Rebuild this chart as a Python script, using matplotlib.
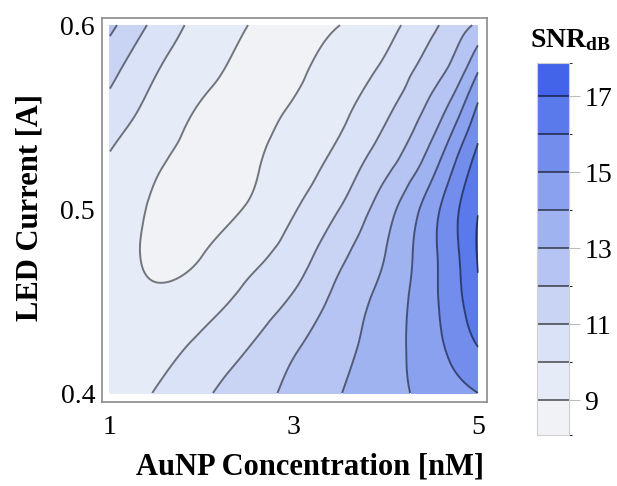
import numpy as np
import matplotlib
matplotlib.use("Agg")
import matplotlib.pyplot as plt
import matplotlib.tri as mtri
import matplotlib.colors as colors
import matplotlib.colorbar as mcolorbar

plt.rcParams['font.family'] = ['Liberation Serif', 'DejaVu Serif']
plt.rcParams['mathtext.fontset'] = 'custom'
plt.rcParams['mathtext.bf'] = 'Liberation Serif:bold'
plt.rcParams['mathtext.rm'] = 'Liberation Serif'

# Grid
conc = [1.0, 1.5, 2.0, 2.5, 3.0, 3.5, 4.0, 4.5, 4.75, 5.0]          # nM
current = [0.400, 0.425, 0.450, 0.475, 0.500, 0.525, 0.550, 0.575, 0.600]  # A
snr = [
    [9.35, 10.06, 10.82, 11.55, 12.26, 12.97, 13.63, 14.34, 14.67, 15.00],
    [9.25, 9.60, 10.25, 10.98, 11.88, 12.69, 13.56, 14.65, 15.30, 16.00],
    [9.30, 9.15, 9.55, 10.30, 11.17, 12.34, 13.38, 14.78, 15.64, 16.78],
    [9.40, 8.87, 8.99, 9.67, 10.48, 11.77, 13.03, 14.78, 15.78, 17.07],
    [9.50, 8.90, 8.77, 9.07, 9.93, 11.02, 12.59, 14.60, 15.79, 16.95],
    [9.85, 9.10, 8.78, 8.87, 9.48, 10.36, 11.68, 13.58, 15.00, 16.39],
    [10.54, 9.55, 8.88, 8.78, 9.13, 9.82, 10.92, 12.50, 13.75, 15.38],
    [11.30, 10.05, 9.25, 8.80, 8.86, 9.43, 10.24, 11.55, 12.42, 13.95],
    [12.25, 10.73, 9.65, 9.00, 8.78, 9.00, 9.65, 10.80, 11.50, 12.20],
]

levels = [8.08, 9, 10, 11, 12, 13, 14, 15, 16, 17, 17.87]
band_colors = ['#F0F2F6', '#E6EBF8', '#DAE2F8', '#C9D4F5', '#B5C4F3',
               '#A0B3F1', '#8AA1EF', '#728DEC', '#5A79EA', '#4364E8']
line_levels = [9, 10, 11, 12, 13, 14, 15, 16, 17]
cbar_ticks = [9, 11, 13, 15, 17]

cmap = colors.ListedColormap(band_colors)
norm = colors.BoundaryNorm(levels, cmap.N)

# triangulate on a scaled grid so the smoothing treats both axes alike
X, Y = np.meshgrid(conc, current)
Z = np.array(snr)
ys = (Y - 0.4) * 20 + 1
tri = mtri.Triangulation(X.ravel(), ys.ravel())
interp = mtri.CubicTriInterpolator(tri, Z.ravel(), kind='min_E')
refiner = mtri.UniformTriRefiner(tri)
tri_f, z_f = refiner.refine_field(Z.ravel(), triinterpolator=interp, subdiv=4)
tri_plot = mtri.Triangulation(tri_f.x, (tri_f.y - 1) / 20 + 0.4, tri_f.triangles)

fig = plt.figure(figsize=(6.17, 4.86), dpi=100)
ax = fig.add_axes([0.1653, 0.1728, 0.624, 0.790])

ax.tricontourf(tri_plot, z_f, levels=levels, cmap=cmap, norm=norm, extend='both')
ax.tricontour(tri_plot, z_f, levels=line_levels, colors='black', alpha=0.5,
              linewidths=1.4)

ax.set_xlim(0.913, 5.098)
ax.set_ylim(0.3951, 0.6038)
ax.set_xticks([1, 3, 5])
ax.set_yticks([0.4, 0.5, 0.6])
ax.set_yticklabels(['0.4', '0.5', '0.6'])
ax.tick_params(length=0, labelsize=20)
ax.tick_params(axis='x', pad=9)
ax.tick_params(axis='y', pad=5)
for s in ax.spines.values():
    s.set_color('#8a8a8a')
    s.set_linewidth(1.2)

fig.text(0.5024, 0.039, 'AuNP Concentration [nM]', fontsize=22, fontweight='bold',
         ha='center', va='center')
fig.text(0.0486, 0.574, 'LED Current [A]', fontsize=22, fontweight='bold',
         ha='center', va='center', rotation=90)

# Legend bar
cax = fig.add_axes([0.870, 0.105, 0.052, 0.765])
cb = mcolorbar.ColorbarBase(cax, cmap=cmap, norm=norm, boundaries=levels,
                            spacing='proportional', ticks=cbar_ticks)
for lv in line_levels:
    cax.axhline(lv, color='black', alpha=0.55, lw=1.4)
cb.outline.set_edgecolor('#d0d0d0')
cb.outline.set_linewidth(0.8)
cax.tick_params(length=8, width=0.8, color='#bbbbbb', labelsize=20, pad=3)
cax.set_yticklabels([str(t) for t in cbar_ticks])
fig.text(0.924, 0.918, r'$\mathbf{SNR_{dB}}$', fontsize=20, ha='center', va='center')

plt.savefig('out.png', dpi=100)
